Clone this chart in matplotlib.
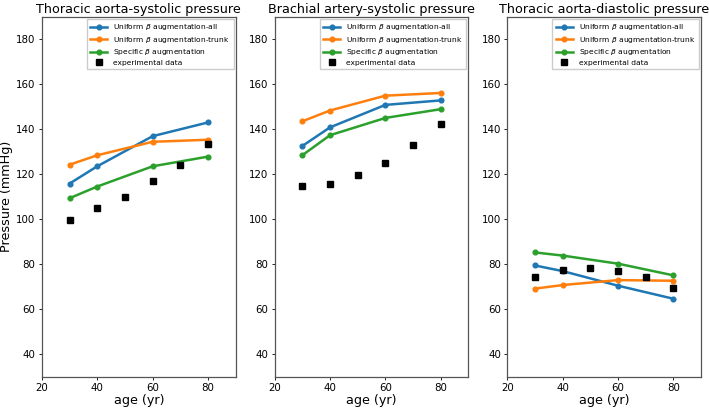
import matplotlib
matplotlib.use("Agg")
import matplotlib.pyplot as plt

ages_sim = [30, 40, 60, 80]
ages_exp = [30, 40, 50, 60, 70, 80]

titles = ["Thoracic aorta-systolic pressure",
          "Brachial artery-systolic pressure",
          "Thoracic aorta-diastolic pressure"]

# uniform beta augmentation - all
uniform_all = [[115.8, 123.5, 136.9, 143.0],
               [132.5, 140.8, 150.8, 152.8],
               [79.4, 76.9, 70.4, 64.6]]
# uniform beta augmentation - trunk
uniform_trunk = [[124.2, 128.4, 134.4, 135.3],
                 [143.5, 148.3, 154.9, 156.1],
                 [69.1, 70.7, 72.9, 72.6]]
# specific beta augmentation
specific = [[109.3, 114.5, 123.5, 127.8],
            [128.4, 137.3, 145.0, 148.9],
            [85.2, 83.8, 80.2, 75.0]]
# experimental data
experimental = [[99.6, 104.9, 109.9, 116.9, 124.1, 133.5],
                [114.7, 115.8, 119.5, 125.0, 132.9, 142.2],
                [74.1, 77.2, 78.1, 76.8, 74.1, 69.6]]

fig, axes = plt.subplots(1, 3, figsize=(7.09, 4.08), dpi=100)
fig.subplots_adjust(left=0.059, right=0.989, top=0.959, bottom=0.077, wspace=0.2)

for i, ax in enumerate(axes):
    ax.plot(ages_sim, uniform_all[i], "-o", color="#1f77b4", lw=1.8, ms=3.4,
            label=r"Uniform $\beta$ augmentation-all")
    ax.plot(ages_sim, uniform_trunk[i], "-o", color="#ff7f0e", lw=1.8, ms=3.4,
            label=r"Uniform $\beta$ augmentation-trunk")
    ax.plot(ages_sim, specific[i], "-o", color="#2ca02c", lw=1.8, ms=3.4,
            label=r"Specific $\beta$ augmentation")
    ax.plot(ages_exp, experimental[i], "s", color="black", ms=3.8,
            label="experimental data")
    ax.set_xlim(20, 90)
    ax.set_ylim(30, 190)
    ax.set_xticks([20, 40, 60, 80])
    ax.set_yticks([40, 60, 80, 100, 120, 140, 160, 180])
    ax.tick_params(labelsize=7.4, length=2.5, width=0.6, pad=2)
    ax.set_title(titles[i], fontsize=9.2, pad=3)
    ax.set_xlabel("age (yr)", fontsize=9.2, labelpad=1)
    ax.legend(loc="upper right", fontsize=5.4, handlelength=2.3,
              borderpad=0.45, labelspacing=0.32, fancybox=False, framealpha=1,
              borderaxespad=0.3)
    for s in ax.spines.values():
        s.set_color("#555555")
        s.set_linewidth(0.9)

axes[0].set_ylabel("Pressure (mmHg)", fontsize=9.2, labelpad=2)

fig.savefig("out.png", dpi=100)
